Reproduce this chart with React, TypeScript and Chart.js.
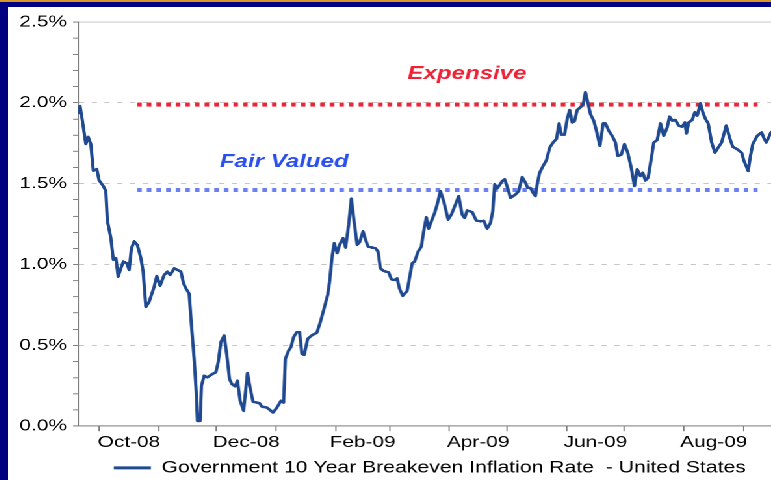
import React, { useEffect, useRef } from 'react';
import { Chart, registerables } from 'chart.js';

Chart.register(...registerables);

// Days since 2008-09-01
const dayOffsets = [
  19.2, 20.1, 21.3, 23.1, 24.3, 25.7, 27.0, 28.8, 30.0, 32.2,
  33.5, 34.3, 36.1, 37.4, 38.7, 39.9, 41.3, 42.6, 44.4, 45.6,
  46.8, 48.2, 49.9, 51.7, 52.9, 54.3, 56.0, 58.6, 60.0, 61.7,
  63.8, 65.5, 66.9, 69.0, 70.7, 72.5, 73.9, 75.1, 76.8, 78.0,
  79.4, 80.5, 81.1, 82.5, 83.2, 84.6, 86.3, 88.9, 90.7, 91.9,
  93.3, 95.0, 96.4, 97.8, 99.0, 100.7, 101.9, 103.3, 105.1, 107.1,
  108.6, 110.0, 112.0, 113.4, 114.6, 117.2, 119.0, 120.4, 122.4, 124.5,
  125.9, 126.8, 128.5, 129.7, 131.1, 132.8, 134.2, 135.4, 136.6, 138.4,
  140.6, 143.2, 145.0, 146.7, 148.8, 149.8, 151.1, 152.2, 153.7, 155.0,
  156.8, 158.1, 159.7, 161.1, 162.3, 164.1, 165.4, 167.2, 168.5, 169.8,
  171.9, 173.6, 175.0, 176.2, 177.9, 180.5, 181.9, 183.6, 184.9, 186.1,
  187.8, 190.1, 191.3, 192.7, 194.0, 195.8, 197.5, 198.7, 200.1, 201.3,
  202.7, 204.4, 205.7, 207.4, 209.1, 211.4, 213.1, 215.2, 216.9, 218.7,
  220.0, 221.3, 223.9, 226.0, 228.2, 229.9, 231.7, 233.4, 234.6, 235.6,
  236.9, 238.1, 239.5, 240.8, 242.6, 243.8, 246.4, 248.1, 249.9, 251.6,
  252.8, 254.2, 255.6, 256.8, 257.7, 259.0, 260.8, 262.5, 264.2, 266.0,
  267.7, 269.1, 270.2, 271.9, 273.3, 274.6, 275.9, 277.1, 278.5, 280.2,
  281.6, 282.8, 284.0, 285.4, 287.1, 288.5, 290.3, 292.0, 293.2, 294.9,
  296.7, 298.4, 299.6, 301.4, 303.1, 304.8, 306.6, 308.3, 309.7, 311.4,
  312.6, 314.0, 315.4, 317.1, 318.3, 320.1, 321.8, 323.5, 325.3, 326.5,
  327.9, 329.6, 331.3, 333.1, 334.5, 335.3, 336.5, 338.3, 339.7, 340.9,
  342.6, 343.8, 345.2, 346.6, 348.4, 350.1, 351.8, 353.6, 356.0, 357.7,
  359.4, 361.7, 364.0, 365.2, 366.0, 367.4, 368.6, 369.8, 372.1, 374.4,
  375.6, 376.8, 378.2, 379.2, 381.0,
];

// Breakeven inflation rate, %
const breakevenRates = [
  1.93, 1.98, 1.89, 1.745, 1.79, 1.745, 1.58, 1.59, 1.52, 1.485,
  1.455, 1.27, 1.165, 1.03, 1.04, 0.925, 0.976, 1.018, 1.008, 0.966,
  1.10, 1.143, 1.12, 1.04, 0.956, 0.738, 0.769, 0.862, 0.929, 0.869,
  0.935, 0.956, 0.935, 0.976, 0.966, 0.956, 0.883, 0.852, 0.82, 0.624,
  0.416, 0.209, 0.032, 0.032, 0.25, 0.312, 0.302, 0.323, 0.333, 0.395,
  0.52, 0.561, 0.437, 0.29, 0.26, 0.246, 0.281, 0.157, 0.095, 0.329,
  0.229, 0.151, 0.146, 0.142, 0.121, 0.115, 0.098, 0.084, 0.115, 0.157,
  0.146, 0.416, 0.468, 0.489, 0.551, 0.582, 0.582, 0.447, 0.441, 0.54,
  0.562, 0.578, 0.644, 0.717, 0.811, 0.894, 1.049, 1.132, 1.07, 1.122,
  1.163, 1.105, 1.247, 1.408, 1.288, 1.122, 1.138, 1.205, 1.153, 1.111,
  1.105, 1.101, 1.08, 0.976, 0.96, 0.951, 0.908, 0.904, 0.914, 0.852,
  0.806, 0.836, 0.914, 1.007, 1.018, 1.08, 1.111, 1.205, 1.292, 1.222,
  1.267, 1.319, 1.371, 1.454, 1.392, 1.278, 1.309, 1.371, 1.423, 1.309,
  1.288, 1.334, 1.325, 1.273, 1.267, 1.271, 1.222, 1.257, 1.329, 1.496,
  1.471, 1.491, 1.516, 1.527, 1.464, 1.412, 1.433, 1.454, 1.541, 1.506,
  1.474, 1.474, 1.443, 1.423, 1.496, 1.568, 1.61, 1.645, 1.723, 1.755,
  1.776, 1.873, 1.803, 1.803, 1.9, 1.956, 1.879, 1.886, 1.956, 1.973,
  1.99, 2.066, 2.004, 1.931, 1.89, 1.828, 1.734, 1.873, 1.873, 1.828,
  1.796, 1.755, 1.672, 1.678, 1.745, 1.692, 1.599, 1.485, 1.589, 1.547,
  1.568, 1.52, 1.537, 1.661, 1.755, 1.77, 1.873, 1.796, 1.848, 1.915,
  1.89, 1.894, 1.859, 1.852, 1.879, 1.811, 1.879, 1.894, 1.942, 1.921,
  1.997, 1.942, 1.9, 1.873, 1.755, 1.692, 1.723, 1.755, 1.86, 1.786,
  1.728, 1.713, 1.692, 1.641, 1.62, 1.578, 1.672, 1.745, 1.796, 1.817,
  1.781, 1.755, 1.79, 1.817, 1.83,
];

// Month boundaries (days since 2008-09-01) and labelled months
const monthStartDays = [30, 61, 91, 122, 153, 181, 212, 242, 273, 303, 334, 365, 395];
const monthLabelDays = [45.5, 106.5, 167, 227, 288, 349.5];
const monthLabels = ['Oct-08', 'Dec-08', 'Feb-09', 'Apr-09', 'Jun-09', 'Aug-09'];

const seriesName = 'Government 10 Year Breakeven Inflation Rate  - United States';

const zoneNames = ['Expensive', 'Fair Valued'];
const zoneLevels = [1.99, 1.46];
const zoneStartDay = 49.8;
const zoneEndDay = 372.3;

const STRETCH = 1.3;
const FONT = '"Liberation Sans", Arial, Helvetica, sans-serif';

export default function App() {
  const canvasRef = useRef<HTMLCanvasElement | null>(null);

  useEffect(() => {
    const canvas = canvasRef.current;
    if (!canvas) return;

    const zoneTextColors = ['#EE2336', '#2A4FEF'];
    const zoneLineColors = ['#EE2336', '#6A7FF2'];
    const zoneTextAnchors = [
      { day: 221.2, value: 2.18 },
      { day: 126.2, value: 1.635 },
    ];

    const zoneLabelPlugin = {
      id: 'zoneLabels',
      afterDatasetsDraw(chart: any) {
        const { ctx, scales } = chart;
        const x = scales.x;
        const y = scales.y;
        ctx.save();
        ctx.font = `italic bold 18.5px ${FONT}`;
        ctx.textAlign = 'center';
        ctx.textBaseline = 'middle';
        zoneNames.forEach((name, i) => {
          ctx.fillStyle = zoneTextColors[i];
          ctx.fillText(name, x.getPixelForValue(zoneTextAnchors[i].day), y.getPixelForValue(zoneTextAnchors[i].value));
        });
        ctx.restore();
      },
    };

    const isMajorY = (v: number) => Math.abs(v * 2 - Math.round(v * 2)) < 1e-6;
    const isLabelDay = (v: number) => monthLabelDays.some((d) => Math.abs(d - v) < 1e-6);

    const lineColor = '#1F4991';

    const chart = new Chart(canvas, {
      type: 'line',
      data: {
        datasets: [
          {
            label: seriesName,
            data: dayOffsets.map((d, i) => ({ x: d, y: breakevenRates[i] })),
            borderColor: lineColor,
            backgroundColor: lineColor,
            borderWidth: 2.5,
            pointRadius: 0,
            tension: 0,
            borderJoinStyle: 'round',
          },
          ...zoneNames.map((name, i) => ({
            label: name,
            data: [
              { x: zoneStartDay, y: zoneLevels[i] },
              { x: zoneEndDay, y: zoneLevels[i] },
            ],
            borderColor: zoneLineColors[i],
            backgroundColor: zoneLineColors[i],
            borderWidth: 4,
            borderDash: [3.5, 3.9],
            borderCapStyle: 'butt',
            pointRadius: 0,
          })),
        ],
      },
      options: {
        animation: false,
        responsive: true,
        maintainAspectRatio: false,
        devicePixelRatio: 2,
        layout: { padding: { top: 15, right: 9, bottom: 0, left: 0 } },
        scales: {
          x: {
            type: 'linear',
            min: 19.07,
            max: 421.2,
            afterBuildTicks: (scale: any) => {
              const vals = [...monthStartDays, ...monthLabelDays].sort((a, b) => a - b);
              scale.ticks = vals.map((v) => ({ value: v }));
            },
            ticks: {
              autoSkip: false,
              maxRotation: 0,
              minRotation: 0,
              padding: 2,
              color: '#000',
              font: { family: FONT, size: 16 },
              callback: (v: any) => {
                const idx = monthLabelDays.findIndex((d) => Math.abs(d - v) < 1e-6);
                return idx >= 0 ? monthLabels[idx] : '';
              },
            },
            grid: {
              drawOnChartArea: false,
              drawTicks: true,
              tickLength: 5,
              color: '#808080',
              tickColor: (ctx: any) =>
                ctx.tick && isLabelDay(ctx.tick.value) ? 'rgba(0,0,0,0)' : '#808080',
            },
            border: { color: '#808080', width: 1 },
          },
          y: {
            min: 0,
            max: 2.5,
            afterFit: (scale: any) => {
              scale.width = 53.85;
            },
            ticks: {
              stepSize: 0.1,
              autoSkip: false,
              padding: 4.8,
              color: '#000',
              font: { family: FONT, size: 16 },
              callback: (v: any) => (isMajorY(v) ? `${Number(v).toFixed(1)}%` : ''),
            },
            grid: {
              tickLength: 3.85,
              tickColor: '#808080',
              color: (ctx: any) => {
                if (!ctx.tick) return 'rgba(0,0,0,0)';
                const v = ctx.tick.value;
                if (v < 0.01) return 'rgba(0,0,0,0)';
                return isMajorY(v) ? '#C6C6C6' : 'rgba(0,0,0,0)';
              },
            },
            border: {
              color: '#808080',
              width: 1,
              dash: (ctx: any) => (ctx.tick && ctx.tick.value > 2.49 ? [] : [4, 5.8]),
            },
          },
        },
        plugins: {
          legend: {
            position: 'bottom',
            labels: {
              color: '#000',
              font: { family: FONT, size: 16.3 },
              boxWidth: 28.5,
              boxHeight: 3,
              padding: 5.3,
              generateLabels: () => [
                {
                  text: seriesName,
                  fillStyle: lineColor,
                  strokeStyle: lineColor,
                  lineWidth: 0,
                  hidden: false,
                  datasetIndex: 0,
                  fontColor: '#000',
                },
              ],
            },
          },
          tooltip: { enabled: false },
        },
      },
      plugins: [zoneLabelPlugin],
    } as any);

    return () => chart.destroy();
  }, []);

  return (
    <div
      style={{
        position: 'fixed',
        left: 0,
        top: 0,
        width: 771,
        height: 480,
        background: '#000080',
        overflow: 'hidden',
      }}
    >
      <div style={{ position: 'absolute', left: 0, top: 0, width: '100%', height: 2, background: '#D9962A' }} />
      <div
        style={{
          position: 'absolute',
          left: 8,
          top: 7,
          width: 657.5,
          height: 478.5,
          background: '#ffffff',
          transform: `scaleX(${STRETCH})`,
          transformOrigin: '0 0',
        }}
      >
        <canvas ref={canvasRef} />
      </div>
    </div>
  );
}
